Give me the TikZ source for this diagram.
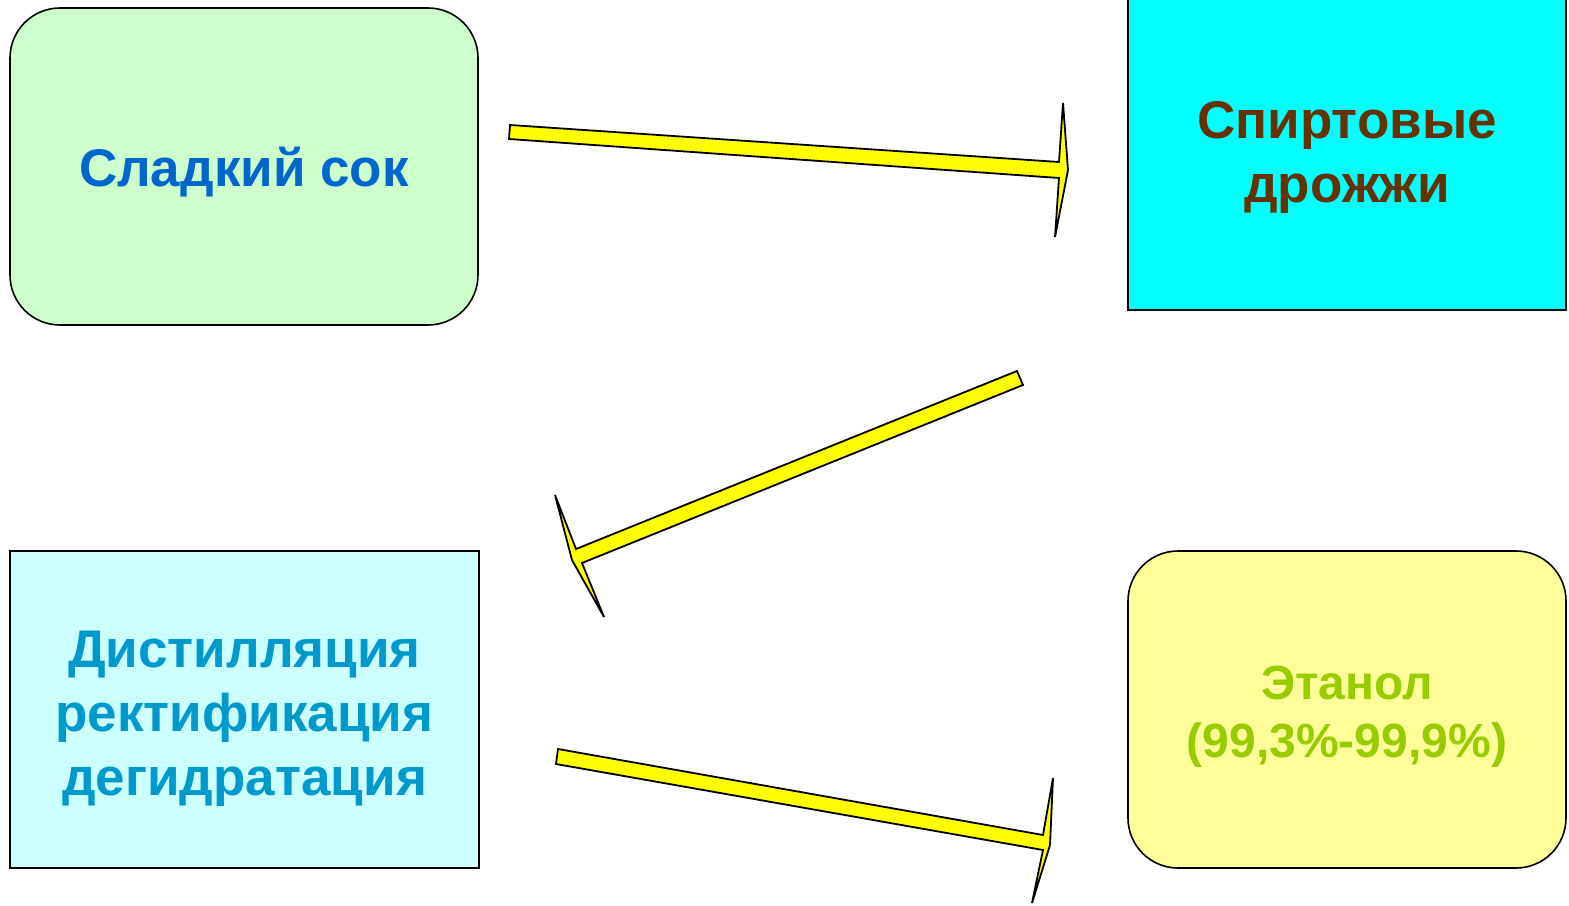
\documentclass[tikz,border=0pt]{standalone}
\usepackage{fontspec}
\setmainfont{Liberation Sans}
\definecolor{juicefill}{HTML}{CCFFCC}
\definecolor{juicetext}{HTML}{0066CC}
\definecolor{yeastfill}{HTML}{00FFFF}
\definecolor{yeasttext}{HTML}{663300}
\definecolor{procfill}{HTML}{CCFFFF}
\definecolor{proctext}{HTML}{0099CC}
\definecolor{ethfill}{HTML}{FFFF99}
\definecolor{ethtext}{HTML}{99CC00}
\definecolor{arrowfill}{HTML}{FFFF00}
\tikzset{
  box/.style={draw=black, line width=1.6pt, inner sep=0pt},
  roundbox/.style={box, rounded corners=50pt},
  stagetext/.style={inner sep=0pt, align=center,
    font=\bfseries\fontsize{53}{64}\selectfont},
  blockarrow/.style={draw=black, fill=arrowfill, line width=1.8pt, line join=miter}
}
\begin{document}
\begin{tikzpicture}[x=1pt, y=-1pt]
\useasboundingbox (0,0) rectangle (1569,905);

% process stages
\node[roundbox, fill=juicefill, minimum width=468pt, minimum height=317pt]
  (juice) at (244,166.5) {};
\node[box, fill=yeastfill, minimum width=438pt, minimum height=325pt]
  (yeast) at (1347,147.5) {};
\node[box, fill=procfill, minimum width=469pt, minimum height=317pt]
  (proc) at (244.5,709.5) {};
\node[roundbox, fill=ethfill, minimum width=438pt, minimum height=317pt]
  (eth) at (1347,709.5) {};

% stage captions
\node[stagetext, text=juicetext] (juicetxt) at ([yshift=-6pt]juice.center) {Сладкий сок};
\node[stagetext, text=yeasttext] (yeasttxt) at ([yshift=-10pt]yeast.center) {Спиртовые\\дрожжи};
\node[stagetext, text=proctext] (proctxt) at ([yshift=-9pt]proc.center)
  {Дистилляция\\ректификация\\дегидратация};
\node[stagetext, text=ethtext, font=\bfseries\fontsize{48}{58}\selectfont]
  (ethtxt) at ([yshift=-7pt]eth.center) {Этанол\\(99,3\%-99,9\%)};

% block arrows between the stages
\draw[blockarrow] (510,125) -- (1059,162) -- (1063,103) -- (1068,170)
  -- (1055,237) -- (1059,178) -- (509,139) -- cycle;
\draw[blockarrow] (1017,371) -- (576,549) -- (555,495) -- (572,560)
  -- (604,617) -- (582,563) -- (1023,385) -- cycle;
\draw[blockarrow] (558,749) -- (1043,835) -- (1053,778) -- (1050,845)
  -- (1032,903) -- (1043,850) -- (556,764) -- cycle;
\end{tikzpicture}
\end{document}
